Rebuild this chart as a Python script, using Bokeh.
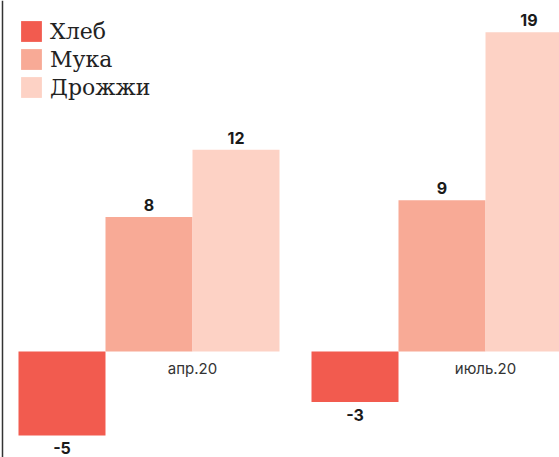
from bokeh.plotting import figure
from bokeh.models import ColumnDataSource, Range1d, Legend, LegendItem, Span
from bokeh.transform import dodge
from bokeh.core.properties import value
from bokeh.embed import file_html
from bokeh.resources import INLINE

categories = ["апр.20", "июль.20"]
series_names = ["Хлеб", "Мука", "Дрожжи"]
khleb = [-5, -3]
muka = [8, 9]
drozhzhi = [12, 19]
colors = ["#F25B4F", "#F8AA96", "#FDD2C5"]

idx = list(range(len(categories)))
src = ColumnDataSource(dict(
    x=idx, cat=categories,
    k=khleb, m=muka, d=drozhzhi,
    kl=[str(v) for v in khleb], ml=[str(v) for v in muka], dl=[str(v) for v in drozhzhi],
    zero=[0] * len(idx),
))

w = 87 / 293
p = figure(width=559, height=457, output_backend="svg", toolbar_location=None,
           x_axis_location=None, y_axis_location=None,
           x_range=Range1d(-0.5068, 1.401), y_range=Range1d(-6.31, 20.89),
           min_border=0, margin=0)
p.outline_line_color = None
p.xgrid.visible = False
p.ygrid.visible = False

cols = ["k", "m", "d"]
offs = [-w, 0, w]
renderers = []
for c, o, col in zip(cols, offs, colors):
    r = p.vbar(x=dodge("x", o, range=p.x_range), top=c, bottom=0, width=w,
               source=src, fill_color=col, line_color=None)
    renderers.append(r)

lab_font = value("Inter")
# positive labels
for c, o in zip(["m", "d"], [0, w]):
    p.text(x=dodge("x", o, range=p.x_range), y=c, text=c + "l", source=src,
           text_align="center", text_baseline="bottom", y_offset=-6,
           text_font=lab_font, text_font_style="bold", text_font_size="16px",
           text_color="#1a1a1a")
# negative labels
p.text(x=dodge("x", -w, range=p.x_range), y="k", text="kl", source=src,
       text_align="center", text_baseline="top", y_offset=7,
       text_font=lab_font, text_font_style="bold", text_font_size="16px",
       text_color="#1a1a1a")
# category labels
p.text(x=dodge("x", w / 2, range=p.x_range), y="zero", text="cat", source=src,
       text_align="center", text_baseline="middle", y_offset=17,
       text_font=lab_font, text_font_size="15px", text_color="#333333")

p.add_layout(Span(location=idx[0] - 0.5, dimension="height",
                  line_color="#333333", line_width=1.5))

legend = Legend(items=[LegendItem(label=n, renderers=[r]) for n, r in zip(series_names, renderers)],
                location="top_left", margin=18, padding=0, spacing=2,
                glyph_width=26, glyph_height=26, label_standoff=6,
                label_height=26,
                label_text_font="DejaVu Serif", label_text_font_size="22px",
                label_text_color="#222222",
                border_line_color=None, background_fill_alpha=0)
p.add_layout(legend)

open("out.html", "w").write(file_html(p, INLINE))
